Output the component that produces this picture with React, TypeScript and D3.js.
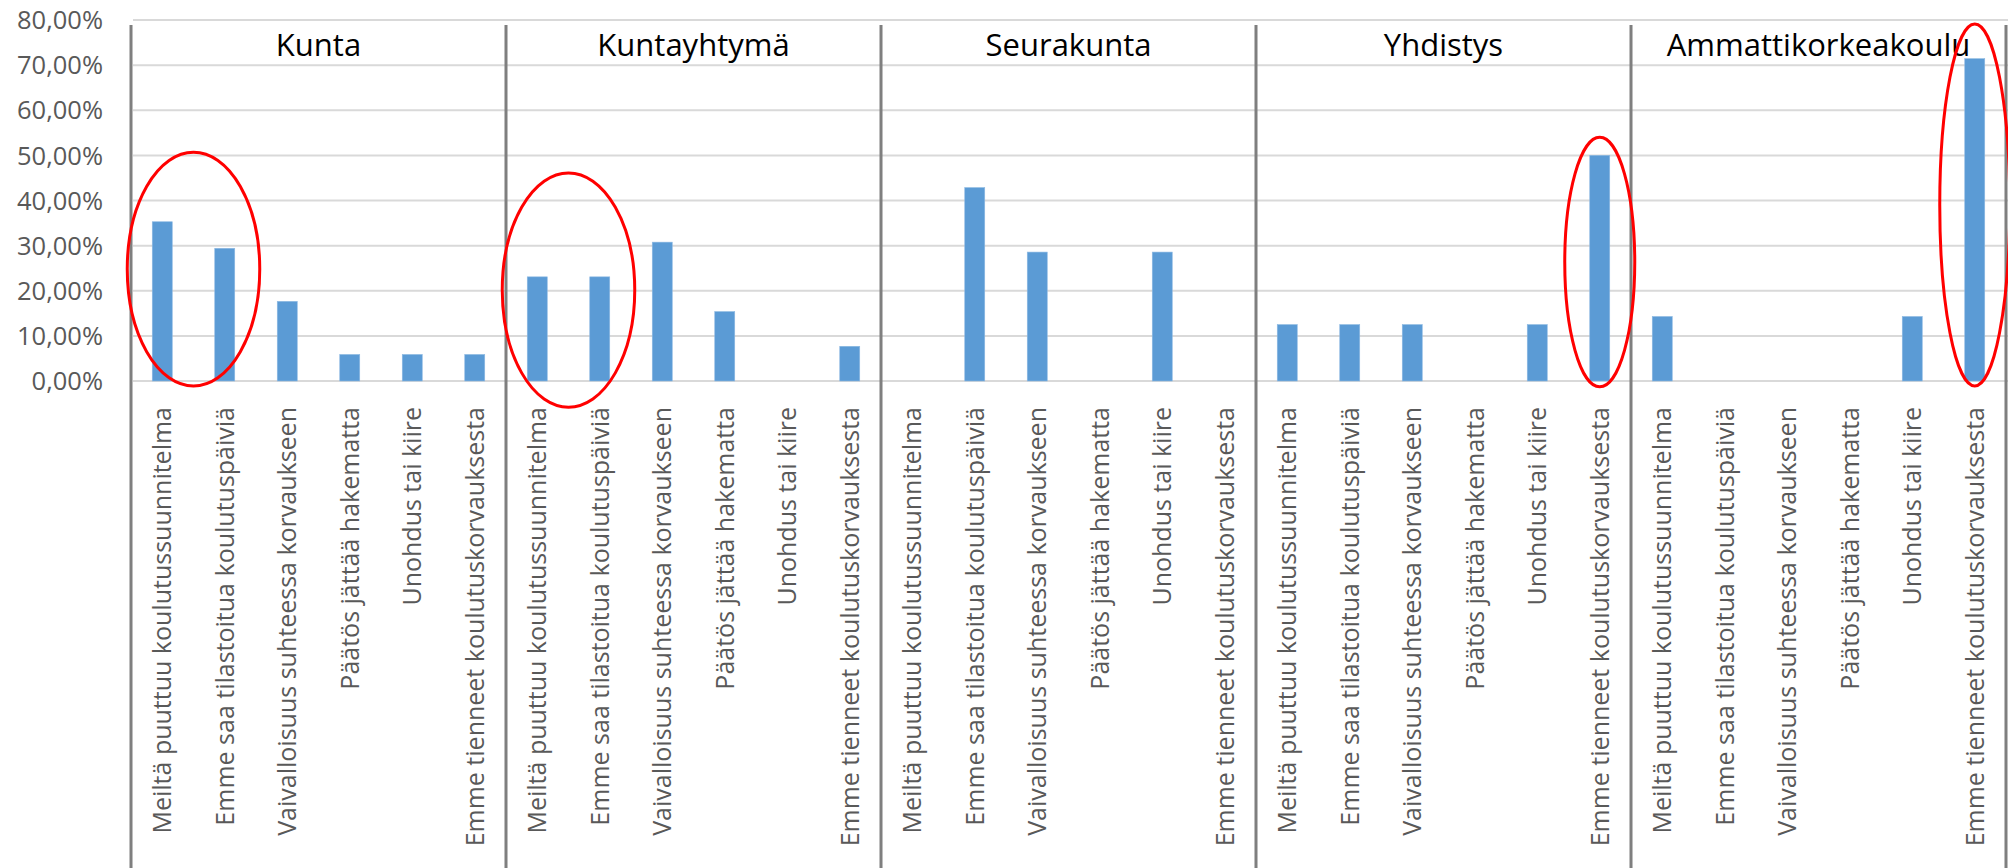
import React from "react";
import * as d3 from "d3";

const groups = ["Kunta", "Kuntayhtymä", "Seurakunta", "Yhdistys", "Ammattikorkeakoulu"];
const categories = [
  "Meiltä puuttuu koulutussuunnitelma",
  "Emme saa tilastoitua koulutuspäiviä",
  "Vaivalloisuus suhteessa korvaukseen",
  "Päätös jättää hakematta",
  "Unohdus tai kiire",
  "Emme tienneet koulutuskorvauksesta",
];

// percent per category, same order as categories
const kunta = [35.29, 29.41, 17.65, 5.88, 5.88, 5.88];
const kuntayhtyma = [23.08, 23.08, 30.77, 15.38, 0, 7.69];
const seurakunta = [0, 42.86, 28.57, 0, 28.57, 0];
const yhdistys = [12.5, 12.5, 12.5, 0, 12.5, 50];
const ammattikorkeakoulu = [14.29, 0, 0, 0, 14.29, 71.43];

const yTicks = [0, 10, 20, 30, 40, 50, 60, 70, 80];

// red rings drawn on the chart: group, first..last category, value span
const highlights = [
  { group: "Kunta", first: 0, last: 1, top: 50.7, bottom: -1.1 },
  { group: "Kuntayhtymä", first: 0, last: 1, top: 46.1, bottom: -5.8 },
  { group: "Yhdistys", first: 5, last: 5, top: 54, bottom: -1.3 },
  { group: "Ammattikorkeakoulu", first: 5, last: 5, top: 79.1, bottom: -1.1 },
];

const width = 2008;
const height = 868;

const App: React.FC = () => {
  const seriesByGroup: Record<string, number[]> = {
    Kunta: kunta,
    Kuntayhtymä: kuntayhtyma,
    Seurakunta: seurakunta,
    Yhdistys: yhdistys,
    Ammattikorkeakoulu: ammattikorkeakoulu,
  };

  const y = d3.scaleLinear().domain([0, 80]).range([381, 20]);
  const xGroup = d3.scaleBand<string>().domain(groups).range([131, 2006]);
  const xCat = d3
    .scaleBand<string>()
    .domain(categories)
    .range([0, xGroup.bandwidth()]);
  const step = xCat.bandwidth();
  const barW = step * 0.32;

  const fmt = (v: number) => d3.format(".2f")(v).replace(".", ",") + "%";
  const font = "'Open Sans', 'DejaVu Sans', sans-serif";

  const separators = [...groups.map((g) => xGroup(g) as number), xGroup.range()[1]];

  return (
    <svg
      width={width}
      height={height}
      style={{ position: "absolute", left: 0, top: 0, background: "#fff" }}
    >
      {/* gridlines */}
      {yTicks.map((t) => (
        <line
          key={"g" + t}
          x1={133}
          x2={width}
          y1={y(t)}
          y2={y(t)}
          stroke="#d9d9d9"
          strokeWidth={2}
        />
      ))}
      {yTicks.map((t) => (
        <text
          key={"t" + t}
          x={103}
          y={y(t)}
          dy="0.36em"
          textAnchor="end"
          fontFamily={font}
          fontSize={25.5}
          fill="#595959"
        >
          {fmt(t)}
        </text>
      ))}

      {/* bars */}
      {groups.map((g) =>
        seriesByGroup[g].map((v, i) => {
          const cx = (xGroup(g) as number) + (xCat(categories[i]) as number) + step / 2;
          return v > 0 ? (
            <rect
              key={g + i}
              x={cx - barW / 2}
              y={y(v)}
              width={barW}
              height={y(0) - y(v)}
              fill="#5b9bd5"
              stroke="#8db9e2"
              strokeWidth={0.6}
            />
          ) : null;
        })
      )}

      {/* separators */}
      {separators.map((sx, i) => (
        <line
          key={"s" + i}
          x1={sx}
          x2={sx}
          y1={25}
          y2={height}
          stroke="#7f7f7f"
          strokeWidth={3}
        />
      ))}

      {/* group titles */}
      {groups.map((g) => (
        <text
          key={"h" + g}
          x={(xGroup(g) as number) + xGroup.bandwidth() / 2}
          y={56}
          textAnchor="middle"
          fontFamily={font}
          fontSize={31}
          fill="#000"
        >
          {g}
        </text>
      ))}

      {/* rotated category labels */}
      {groups.map((g) =>
        categories.map((c) => {
          const cx = (xGroup(g) as number) + (xCat(c) as number) + step / 2;
          return (
            <text
              key={g + c}
              transform={`translate(${cx},407) rotate(-90)`}
              textAnchor="end"
              dy="0.36em"
              fontFamily={font}
              fontSize={25}
              fill="#595959"
            >
              {c}
            </text>
          );
        })
      )}

      {/* highlight rings */}
      {highlights.map((h, i) => {
        const x0 = (xGroup(h.group) as number) + (xCat(categories[h.first]) as number) + step / 2;
        const x1 = (xGroup(h.group) as number) + (xCat(categories[h.last]) as number) + step / 2;
        return (
          <ellipse
            key={"e" + i}
            cx={(x0 + x1) / 2}
            cy={(y(h.top) + y(h.bottom)) / 2}
            rx={(x1 - x0) / 2 + step * 0.56}
            ry={(y(h.bottom) - y(h.top)) / 2}
            fill="none"
            stroke="#ff0000"
            strokeWidth={3}
          />
        );
      })}
    </svg>
  );
};

export default App;
